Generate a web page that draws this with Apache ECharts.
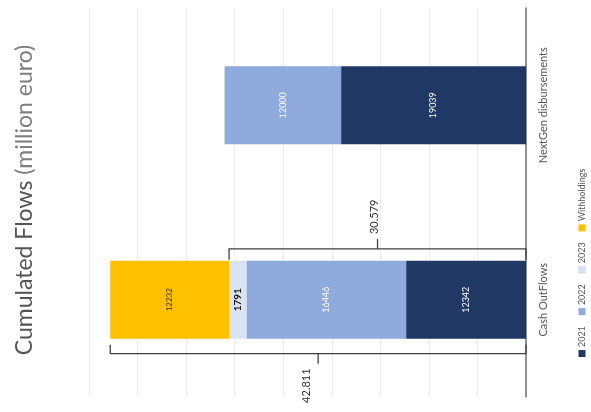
<!DOCTYPE html>
<html><head><meta charset="utf-8">
<script src="https://cdn.jsdelivr.net/npm/echarts@6/dist/echarts.min.js"></script>
<style>html,body{margin:0;padding:0;background:#fff}#c{width:591px;height:412px}</style>
</head><body><div id="c"></div>
<script>
// ---- data ----
const categories = ['Cash OutFlows', 'NextGen disbursements'];
const seriesNames = ['2021', '2022', '2023', 'Withholdings'];
const values2021 = [12342, 19039];
const values2022 = [16446, 12000];
const values2023 = [1791, null];
const valuesWithholdings = [12232, null];
const bracketEnds = [30579, 42811];
const bracketLabels = ['30.579', '42.811'];
const bracketSides = [-1, 1];
const axisMax = 45000;
const axisStep = 5000;

// ---- styles ----
const FONT = 'Lato, "Liberation Sans", sans-serif';
const colors = ['#203864', '#8faadc', '#dae3f3', '#ffc000'];
const labelStyles = [
  {color: '#ffffff', fontSize: 9},
  {color: '#ffffff', fontSize: 9},
  {color: '#111111', fontSize: 10, fontWeight: 'bold'},
  {color: '#3a3020', fontSize: 8}
];
const seriesValues = [values2021, values2022, values2023, valuesWithholdings];
const BAR_RATIO = 0.4;

const chart = echarts.init(document.getElementById('c'), null, {renderer: 'canvas'});

const barSeries = seriesNames.map((name, i) => ({
  name: name,
  type: 'bar',
  stack: 'flows',
  barWidth: (BAR_RATIO * 100) + '%',
  data: seriesValues[i],
  itemStyle: {color: colors[i]},
  label: Object.assign({
    show: true, position: 'inside', rotate: 90, fontFamily: FONT,
    formatter: p => String(p.value)
  }, labelStyles[i])
}));

const bracketData = bracketEnds.map((e, i) => [0, e, 0, bracketSides[i]]);

function renderBracket(params, api) {
  const start = api.value(0), end = api.value(1), cat = api.value(2), side = api.value(3);
  const p0 = api.coord([start, cat]);
  const p1 = api.coord([end, cat]);
  const band = api.size([0, 1])[1];
  const half = band * BAR_RATIO / 2;
  const gap = side < 0 ? 12 : 15;
  const y = p0[1] + side * (half + gap);
  const endTick = side < 0 ? 11 : 9;
  const mid = (p0[0] + p1[0]) / 2;
  const midTick = 10;
  const lineStyle = {stroke: '#404040', lineWidth: 1.3, fill: null};
  const shift = side < 0 ? -3 : -12;
  return {
    type: 'group',
    children: [
      {type: 'polyline', shape: {points: [[p1[0], y - side * endTick], [p1[0], y], [p0[0], y], [p0[0], y - side * endTick]]}, style: lineStyle},
      {type: 'line', shape: {x1: mid, y1: y, x2: mid, y2: y + side * midTick}, style: lineStyle},
      {type: 'text', x: mid + shift, y: y + side * (midTick + 22), rotation: Math.PI / 2,
        style: {text: bracketLabels[params.dataIndex], fill: '#333333', font: '11px ' + FONT, align: 'center', verticalAlign: 'middle'}}
    ]
  };
}

// legend drawn as a rotated graphic group
const measureCtx = document.createElement('canvas').getContext('2d');
const LEG_FONT = '9px ' + FONT;
measureCtx.font = LEG_FONT;
const legendChildren = [];
let lx = 0;
seriesNames.forEach((name, i) => {
  legendChildren.push({type: 'rect', shape: {x: lx, y: -3.5, width: 7, height: 7},
    style: {fill: colors[i], stroke: i === 2 ? '#c9d3e3' : null, lineWidth: 0.5}});
  lx += 10;
  legendChildren.push({type: 'text', x: lx, y: 0,
    style: {text: name, fill: '#595959', font: LEG_FONT, align: 'left', verticalAlign: 'middle'}});
  lx += measureCtx.measureText(name).width + 11;
});

const option = {
  animation: false,
  backgroundColor: '#ffffff',
  grid: {left: 89, right: 65, top: 8, bottom: 15},
  xAxis: {
    type: 'value', inverse: true, min: 0, max: axisMax, interval: axisStep,
    axisLine: {show: false}, axisTick: {show: false}, axisLabel: {show: false},
    splitLine: {show: true, lineStyle: {color: '#ebebeb', width: 1}}
  },
  yAxis: {
    type: 'category', position: 'right', data: categories,
    axisLine: {show: true, lineStyle: {color: '#6f6f6f', width: 1.5}},
    axisTick: {show: false},
    axisLabel: {rotate: 90, margin: 12, color: '#595959', fontSize: 11, fontFamily: FONT}
  },
  series: barSeries.concat([{
    type: 'custom', name: 'brackets', renderItem: renderBracket,
    encode: {x: [0, 1], y: 2}, data: bracketData, z: 5, silent: true
  }]),
  graphic: [
    {type: 'text', x: 25, y: 200, rotation: Math.PI / 2,
      style: {text: '{a|Cumulated Flows}{b| (million euro)}', align: 'center', verticalAlign: 'middle',
        rich: {a: {fontSize: 23, fill: '#555555', fontFamily: FONT}, b: {fontSize: 23, fill: '#7f7f7f', fontFamily: FONT}}}},
    {type: 'group', x: 582, y: 357, rotation: Math.PI / 2, children: legendChildren}
  ]
};
chart.setOption(option);
</script>
</body></html>
